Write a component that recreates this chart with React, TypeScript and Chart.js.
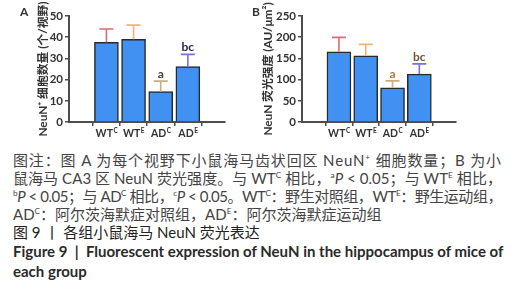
import React, { useEffect, useLayoutEffect, useRef } from "react";
import { Chart, registerables } from "chart.js";

Chart.register(...registerables);

// ---- data ----
const groupBase = ["WT", "WT", "AD", "AD"];
const groupSup = ["C", "E", "C", "E"];
const neunCount = [37.6, 39.0, 14.3, 26.1];
const neunCountErr = [6.3, 6.7, 5.0, 5.8];
const neunIntensity = [165.7, 156, 80.5, 113];
const neunIntensityErr = [34, 27, 16.5, 24];
const sigLabels = ["", "", "a", "bc"];
const errColors = ["#e06a72", "#f3b36e", "#c9ad80", "#7272e0"];
const sigColorsA = ["#333", "#333", "#4a4030", "#26264a"];
const sigColorsB = ["#333", "#333", "#b8742e", "#7a5030"];
const yTitleA = "NeuN⁺ 细胞数量 (个/视野)";
const yTitleB = "NeuN 荧光强度 (AU/μm²)";

const BAR_BLUE = "#4191f3";
const AXIS = "#4d4d4d";
const FONT = "Lato, 'Noto Sans CJK SC', sans-serif";

type PanelCfg = {
  values: number[];
  errs: number[];
  max: number;
  step: number;
  title: string;
  titlePad: number;
  padRight: number;
  yWidth: number;
  sigColors: string[];
};

function makeChart(canvas: HTMLCanvasElement, cfg: PanelCfg) {
  const overlay = {
    id: "overlay",
    afterDatasetsDraw(chart: any) {
      const ctx = chart.ctx;
      const xs = chart.scales.x;
      const ys = chart.scales.y;
      ctx.save();
      cfg.values.forEach((v, i) => {
        const x = xs.getPixelForValue(i);
        const yTop = ys.getPixelForValue(v);
        const yErr = ys.getPixelForValue(v + cfg.errs[i]);
        ctx.strokeStyle = errColors[i];
        ctx.lineWidth = 1.6;
        ctx.beginPath();
        ctx.moveTo(x, yTop);
        ctx.lineTo(x, yErr);
        ctx.moveTo(x - 7, yErr);
        ctx.lineTo(x + 7, yErr);
        ctx.stroke();
        if (sigLabels[i]) {
          ctx.fillStyle = cfg.sigColors[i];
          ctx.font = `bold 12px ${FONT}`;
          ctx.textAlign = "center";
          ctx.textBaseline = "alphabetic";
          ctx.fillText(sigLabels[i], x, yErr - 3);
        }
      });
      // x labels with superscript
      groupBase.forEach((b, i) => {
        const x = xs.getPixelForValue(i);
        const y = chart.chartArea.bottom + 15;
        ctx.font = `bold 10.5px ${FONT}`;
        const wb = ctx.measureText(b).width;
        ctx.font = `bold 6.5px ${FONT}`;
        const ws = ctx.measureText(groupSup[i]).width;
        const start = x - (wb + ws) / 2;
        ctx.fillStyle = "#333";
        ctx.textAlign = "left";
        ctx.textBaseline = "alphabetic";
        ctx.font = `bold 10.5px ${FONT}`;
        ctx.fillText(b, start, y);
        ctx.font = `bold 6.5px ${FONT}`;
        ctx.fillText(groupSup[i], start + wb + 0.5, y - 4.5);
      });
      ctx.restore();
    },
  };

  return new Chart(canvas, {
    type: "bar",
    data: {
      datasets: [
        {
          data: cfg.values.map((v, i) => ({ x: i, y: v })),
          backgroundColor: BAR_BLUE,
          borderColor: "#2a2a2a",
          borderWidth: 1.5,
          barThickness: 24,
        },
      ],
    },
    options: {
      animation: false,
      responsive: false,
      devicePixelRatio: 1,
      layout: { padding: { left: 0, top: 16, right: cfg.padRight, bottom: 0 } },
      plugins: { legend: { display: false }, tooltip: { enabled: false } },
      scales: {
        x: {
          type: "linear",
          min: -0.66,
          max: 3.65,
          afterBuildTicks: (s: any) => {
            s.ticks = groupBase.map((_, i) => ({ value: i }));
          },
          afterFit: (s: any) => {
            s.height = 23;
          },
          ticks: { display: false },
          grid: {
            drawOnChartArea: false,
            drawTicks: true,
            tickLength: 4,
            color: AXIS,
            lineWidth: 1.5,
          },
          border: { display: true, color: AXIS, width: 2 },
        },
        y: {
          min: 0,
          max: cfg.max,
          afterBuildTicks: (s: any) => {
            const t = [];
            for (let v = 0; v <= cfg.max; v += cfg.step) t.push({ value: v });
            s.ticks = t;
          },
          afterFit: (s: any) => {
            s.width = cfg.yWidth;
          },
          ticks: {
            padding: 2,
            color: "#333",
            font: { family: FONT, size: 11.5, weight: "bold" },
          },
          grid: {
            drawOnChartArea: false,
            drawTicks: true,
            tickLength: 4,
            color: AXIS,
            lineWidth: 1.5,
          },
          border: { display: true, color: AXIS, width: 2 },
          title: {
            display: true,
            text: cfg.title,
            color: "#333",
            font: { family: FONT, size: 11.8, weight: "bold" },
            padding: { top: cfg.titlePad, bottom: 0 },
          },
        },
      },
    },
    plugins: [overlay],
  } as any);
}

function Panel(props: { cfg: PanelCfg; left: number; width: number }) {
  const ref = useRef<HTMLCanvasElement>(null);
  useEffect(() => {
    const c = makeChart(ref.current!, props.cfg);
    return () => c.destroy();
  }, []);
  return (
    <canvas
      ref={ref}
      width={props.width}
      height={145}
      style={{ position: "absolute", left: props.left, top: 0, width: props.width, height: 145 }}
    />
  );
}

const CAP_W = 489;
const capStyle: React.CSSProperties = {
  position: "absolute",
  left: 13,
  width: CAP_W,
  fontSize: 15,
  lineHeight: "18px",
  color: "#444",
  fontFamily: FONT,
  whiteSpace: "nowrap",
};
const S = (p: { children: any }) => (
  <sup style={{ fontSize: "0.55em", verticalAlign: "super", lineHeight: 0 }}>{p.children}</sup>
);

function JLine(props: { top: number; children: any }) {
  const ref = useRef<HTMLSpanElement>(null);
  useLayoutEffect(() => {
    const fit = () => {
      const el = ref.current;
      if (!el) return;
      el.style.letterSpacing = "0px";
      const w = el.getBoundingClientRect().width;
      const n = (el.textContent || "").length;
      el.style.letterSpacing = (CAP_W - w) / n + "px";
    };
    fit();
    (document as any).fonts?.ready?.then(fit);
  }, []);
  return (
    <div style={{ ...capStyle, top: props.top }}>
      <span ref={ref}>{props.children}</span>
    </div>
  );
}

export default function App() {
  const cfgA: PanelCfg = {
    values: neunCount,
    errs: neunCountErr,
    max: 50,
    step: 10,
    title: yTitleA,
    titlePad: 36,
    padRight: 25,
    yWidth: 69,
    sigColors: sigColorsA,
  };
  const cfgB: PanelCfg = {
    values: neunIntensity,
    errs: neunIntensityErr,
    max: 250,
    step: 50,
    title: yTitleB,
    titlePad: 11,
    padRight: 63,
    yWidth: 52,
    sigColors: sigColorsB,
  };
  return (
    <div style={{ position: "absolute", left: 0, top: 0, width: 519, height: 300, background: "#fff", overflow: "hidden" }}>
      <Panel cfg={cfgA} left={0} width={250} />
      <Panel cfg={cfgB} left={250} width={269} />
      <div style={{ position: "absolute", left: 20, top: 4, font: `bold 12px ${FONT}`, color: "#333" }}>A</div>
      <div style={{ position: "absolute", left: 252, top: 4, font: `bold 12px ${FONT}`, color: "#333" }}>B</div>

      <JLine top={151}>
        图注：图 A 为每个视野下小鼠海马齿状回区 NeuN<S>+</S> 细胞数量；B 为小
      </JLine>
      <JLine top={169}>
        鼠海马 CA3 区 NeuN 荧光强度。与 WT<S>C</S> 相比，<S>a</S><i>P</i> &lt; 0.05；与 WT<S>E</S> 相比，
      </JLine>
      <JLine top={187}>
        <S>b</S><i>P</i> &lt; 0.05；与 AD<S>C</S> 相比，<S>c</S><i>P</i> &lt; 0.05。WT<S>C</S>：野生对照组，WT<S>E</S>：野生运动组，
      </JLine>
      <div style={{ ...capStyle, top: 205 }}>
        AD<S>C</S>：阿尔茨海默症对照组，AD<S>E</S>：阿尔茨海默症运动组
      </div>
      <div style={{ ...capStyle, top: 223, color: "#222" }}>
        图 9 丨 各组小鼠海马 NeuN 荧光表达
      </div>
      <div style={{ ...capStyle, top: 242, color: "#2a2a2a", fontWeight: "bold" }}>
        Figure 9 &nbsp;|&nbsp; Fluorescent expression of NeuN in the hippocampus of mice of
      </div>
      <div style={{ ...capStyle, top: 262, color: "#2a2a2a", fontWeight: "bold" }}>
        each group
      </div>
    </div>
  );
}
